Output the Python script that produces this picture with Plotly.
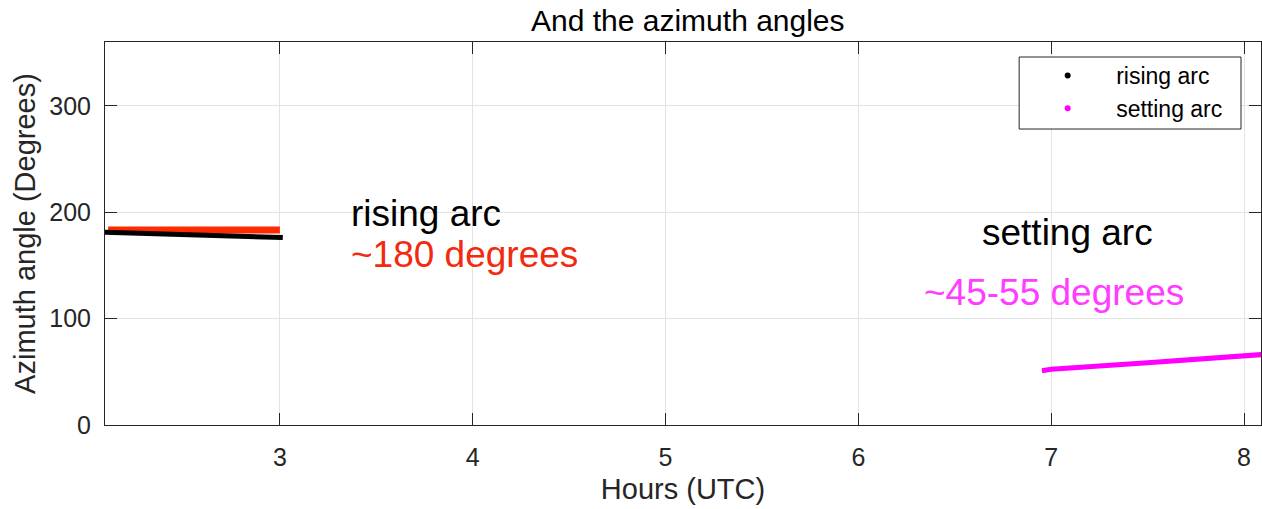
import plotly.graph_objects as go

# Azimuth of the two satellite arcs (hours UTC, degrees)
rising_hours = [2.09, 2.3, 2.53, 2.8, 3.015]
rising_azimuth = [181.2, 180.2, 178.6, 177.3, 176.2]

setting_hours = [6.952, 7.0, 7.5, 8.0, 8.1]
setting_azimuth = [51.0, 52.3, 58.5, 64.8, 66.3]

# Highlight bar marking the ~180 degree level of the rising arc
highlight_hours = [2.109, 3.0]
highlight_azimuth = [183.4, 183.4]

x_ticks = [3, 4, 5, 6, 7, 8]
y_ticks = [0, 100, 200, 300]

FONT = "Liberation Sans, Arial, sans-serif"
AXIS_COLOR = "#262626"
GRID_COLOR = "#e3e3e3"

fig = go.Figure()

fig.add_trace(go.Scatter(
    x=highlight_hours, y=highlight_azimuth, mode="lines",
    line=dict(color="#ff2a00", width=7), showlegend=False, hoverinfo="skip",
))
fig.add_trace(go.Scatter(
    x=rising_hours, y=rising_azimuth, mode="lines",
    line=dict(color="black", width=5), showlegend=False,
))
fig.add_trace(go.Scatter(
    x=setting_hours, y=setting_azimuth, mode="lines",
    line=dict(color="#ff00ff", width=5), showlegend=False,
))

# Legend entries drawn as point markers
fig.add_trace(go.Scatter(
    x=[None], y=[None], mode="markers", name="rising arc",
    marker=dict(color="black", size=6),
))
fig.add_trace(go.Scatter(
    x=[None], y=[None], mode="markers", name="setting arc",
    marker=dict(color="#ff00ff", size=6),
))

ANN_SIZE = 37
fig.add_annotation(x=3.357, y=199, xref="x", yref="y", text="rising arc",
                   showarrow=False, xanchor="left", yanchor="middle",
                   font=dict(family=FONT, size=ANN_SIZE, color="black"))
fig.add_annotation(x=3.357, y=160, xref="x", yref="y", text="~180 degrees",
                   showarrow=False, xanchor="left", yanchor="middle",
                   font=dict(family=FONT, size=ANN_SIZE, color="#f22a0f"))
fig.add_annotation(x=7.083, y=181, xref="x", yref="y", text="setting arc",
                   showarrow=False, xanchor="center", yanchor="middle",
                   font=dict(family=FONT, size=ANN_SIZE, color="black"))
fig.add_annotation(x=7.015, y=125, xref="x", yref="y", text="~45-55 degrees",
                   showarrow=False, xanchor="center", yanchor="middle",
                   font=dict(family=FONT, size=ANN_SIZE, color="#ff3cff"))

# Legend frame
fig.add_shape(type="rect", xref="paper", yref="paper",
              x0=0.7908, x1=0.9827, y0=0.7728, y1=0.9608,
              line=dict(color=AXIS_COLOR, width=1), fillcolor="white", layer="above")

axis_common = dict(
    showline=True, linecolor=AXIS_COLOR, linewidth=1, mirror="ticks",
    ticks="inside", ticklen=12, tickwidth=1, tickcolor=AXIS_COLOR,
    showgrid=True, gridcolor=GRID_COLOR, gridwidth=1, zeroline=False,
    tickfont=dict(family=FONT, size=25, color=AXIS_COLOR),
)

fig.update_xaxes(
    range=[2.093, 8.088], tickvals=x_ticks,
    title=dict(text="Hours (UTC)", font=dict(family=FONT, size=29, color=AXIS_COLOR), standoff=8),
    ticklabelstandoff=10,
    **axis_common,
)
fig.update_yaxes(
    range=[0, 360], tickvals=y_ticks,
    title=dict(text="Azimuth angle (Degrees)", font=dict(family=FONT, size=29, color=AXIS_COLOR), standoff=5),
    ticklabelstandoff=8,
    **axis_common,
)

fig.update_layout(
    width=1262, height=509,
    margin=dict(l=105, r=1, t=42, b=84),
    paper_bgcolor="white", plot_bgcolor="white",
    title=dict(text="And the azimuth angles", x=0.545, xref="container", xanchor="center",
               y=0.96, yref="container", yanchor="middle",
               font=dict(family=FONT, size=30, color="black")),
    legend=dict(
        x=0.7908, y=0.9687, xanchor="left", yanchor="top",
        bgcolor="rgba(0,0,0,0)", borderwidth=0,
        font=dict(family=FONT, size=23, color="black"),
        itemwidth=87, tracegroupgap=0,
    ),
    font=dict(family=FONT),
)

fig.write_html("out.html")
